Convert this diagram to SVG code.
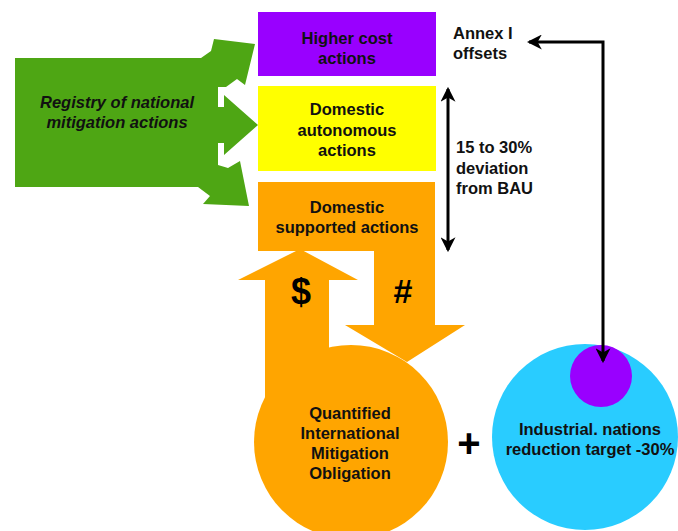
<svg xmlns="http://www.w3.org/2000/svg" width="678" height="531" viewBox="0 0 678 531">
<style>
  .t{font-family:"Liberation Sans",Arial,sans-serif;font-weight:bold;font-size:16.5px;fill:#111}
  .c{text-anchor:middle}
  .big{font-family:"Liberation Sans",Arial,sans-serif;font-weight:bold;fill:#000;text-anchor:middle}
  .ln{fill:none;stroke:#000;stroke-width:3}
</style>
<defs>
  <marker id="ah" viewBox="0 0 14 14" markerUnits="userSpaceOnUse" markerWidth="15" markerHeight="15" refX="12" refY="7" orient="auto-start-reverse">
    <path d="M0,0 L14,7 L0,14 L4,7 Z" fill="#000"/>
  </marker>
</defs>
<rect width="678" height="531" fill="#fff"/>

<g id="registry">
  <path d="M15,58 H201 L211,51 L214,39 L255,44 L245,85 L237,79 L226,87 H218 V107 H224 V95 L258,125 L224,155 V143 H218 V165 L228,168 L240,161 L249,206 L203,204 L210,196 L198,187 H15 Z" fill="#4ea614"/>
  <text class="t c" font-style="italic" x="117" y="108">Registry of national</text>
  <text class="t c" font-style="italic" x="117" y="128">mitigation actions</text>
</g>

<g id="higher-cost">
  <rect x="258" y="12" width="178" height="64" fill="#9900ff"/>
  <text class="t c" x="347" y="44">Higher cost</text>
  <text class="t c" x="347" y="64">actions</text>
</g>

<g id="domestic-autonomous">
  <rect x="258" y="86" width="178" height="85" fill="#ffff00"/>
  <text class="t c" x="347" y="115">Domestic</text>
  <text class="t c" x="347" y="136">autonomous</text>
  <text class="t c" x="347" y="156">actions</text>
</g>

<g id="qimo">
  <circle cx="351" cy="442" r="97" fill="#ffa500"/>
  <path d="M265,400 V280 H238 L300,249 L358,280 H329 V400 Z" fill="#ffa500"/>
  <text class="t c" x="350" y="419">Quantified</text>
  <text class="t c" x="350" y="439">International</text>
  <text class="t c" x="350" y="459">Mitigation</text>
  <text class="t c" x="350" y="479">Obligation</text>
  <text class="big" x="301" y="304" font-size="36">$</text>
</g>

<g id="domestic-supported">
  <path d="M258,182 H435 V325 H465 L407,362 L345,325 H374 V251 H258 Z" fill="#ffa500"/>
  <text class="t c" x="347" y="213">Domestic</text>
  <text class="t c" x="347" y="233">supported actions</text>
  <text class="big" x="403" y="303" font-size="34">#</text>
</g>

<g id="industrial">
  <circle cx="585" cy="437" r="93" fill="#29ccff"/>
  <circle cx="601" cy="376" r="31" fill="#9900ff"/>
  <text class="t c" x="590" y="435">Industrial. nations</text>
  <text class="t c" x="590" y="455">reduction target -30%</text>
</g>

<g id="plus">
  <text class="big" x="469" y="457" font-size="40">+</text>
</g>

<g id="annex-label">
  <text class="t" x="453" y="39">Annex I</text>
  <text class="t" x="453" y="59">offsets</text>
</g>

<g id="deviation-label">
  <text class="t" x="456" y="153">15 to 30%</text>
  <text class="t" x="456" y="174">deviation</text>
  <text class="t" x="456" y="194">from BAU</text>
</g>

<g id="connectors">
  <path class="ln" d="M603,361 V42 H529" marker-start="url(#ah)" marker-end="url(#ah)"/>
  <path class="ln" d="M448,89 V250" marker-start="url(#ah)" marker-end="url(#ah)"/>
</g>
</svg>
